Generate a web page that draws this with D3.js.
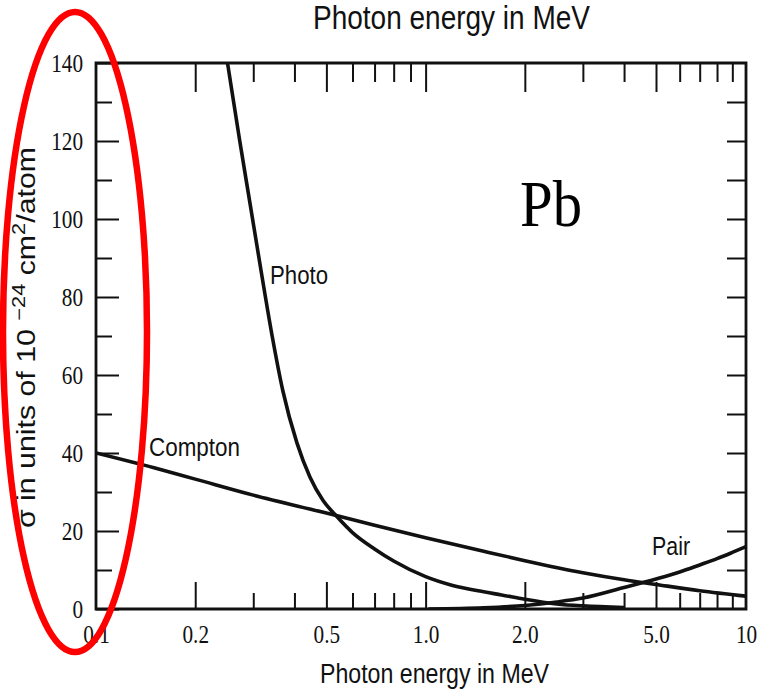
<!DOCTYPE html>
<html><head><meta charset="utf-8">
<script src="https://cdn.jsdelivr.net/npm/d3@7"></script>
<style>body{margin:0;background:#fff}svg{display:block}</style>
</head><body>
<svg id="c" width="769" height="692"></svg>
<script>
// ---- data ----
const energyLabels = [0.1, 0.2, 0.5, 1, 2, 5, 10];
const energyLabelText = ["0.1", "0.2", "0.5", "1.0", "2.0", "5.0", "10"];
const energyMajorTicks = [0.2, 0.5, 1, 2, 5];
const energyMinorTicks = [0.3, 0.4, 0.6, 0.7, 0.8, 0.9, 3, 4, 6, 7, 8, 9];
const sigmaMajorTicks = [0, 20, 40, 60, 80, 100, 120, 140];
const sigmaMinorTicks = [10, 30, 50, 70, 90, 110, 130];
const sigmaRightTicks = [10, 20, 30, 40, 50, 60, 70, 80, 90, 100, 110, 120, 130];

const comptonE     = [0.1, 0.15, 0.2, 0.3, 0.5, 0.7, 1, 1.5, 2, 3, 4, 5, 7, 10];
const comptonSigma = [40, 36.2, 33.3, 29.2, 24.6, 21.5, 18.3, 14.8, 12.4, 9.3, 7.5, 6.3, 4.7, 3.3];

const photoE     = [0.241, 0.252, 0.273, 0.293, 0.318, 0.342, 0.369, 0.407, 0.446, 0.488, 0.538, 0.6, 0.7, 0.8, 1.0, 1.2, 1.5, 1.7, 2.0, 2.5, 3.0, 4.0];
const photoSigma = [148.8, 138.7, 120, 104.2, 85.9, 70.2, 55.9, 42.6, 33.8, 27.9, 23.7, 19.6, 15.4, 12.3, 8.3, 6.1, 4.4, 3.6, 2.5, 1.3, 0.8, 0.4];

const pairE     = [1.02, 1.5, 2, 2.5, 3, 4, 5, 6, 7, 8, 9, 10];
const pairSigma = [0, 0.3, 0.9, 1.8, 2.8, 5.5, 7.7, 9.5, 11.3, 12.9, 14.5, 16];

// ---- scales ----
const svg = d3.select("#c");
const x = d3.scaleLog().domain([0.1, 5, 10]).range([96, 656, 746]);
const y = d3.scaleLinear().domain([0, 140]).range([609, 63]);
const X0 = x(0.1), X1 = x(10), Y0 = y(0), Y1 = y(140);

const serif = "'Liberation Serif','Times New Roman',serif";
const sans = "'Liberation Sans',Arial,Helvetica,sans-serif";

svg.append("clipPath").attr("id", "plot").append("rect")
  .attr("x", X0).attr("y", Y1).attr("width", X1 - X0).attr("height", Y0 - Y1);

function styleAxis(g, w) {
  g.select(".domain").remove();
  g.selectAll(".tick line").attr("stroke", "#111").attr("stroke-width", w || 2);
}

// bottom axis
svg.append("g").attr("transform", `translate(0,${Y0})`)
  .call(d3.axisBottom(x).tickValues(energyMajorTicks).tickSize(-27).tickFormat(""))
  .call(styleAxis);
svg.append("g").attr("transform", `translate(0,${Y0})`)
  .call(d3.axisBottom(x).tickValues(energyMinorTicks).tickSize(-16).tickFormat(""))
  .call(styleAxis);
const xl = svg.append("g").attr("transform", `translate(0,${Y0})`)
  .call(d3.axisBottom(x).tickValues(energyLabels).tickSize(0).tickPadding(16)
    .tickFormat((d, i) => energyLabelText[i]));
xl.select(".domain").remove();
xl.selectAll("text").attr("font-family", serif).attr("font-size", 25).attr("fill", "#111")
  .attr("transform", "scale(0.85,1)");

// top axis
svg.append("g").attr("transform", `translate(0,${Y1})`)
  .call(d3.axisTop(x).tickValues(energyMajorTicks).tickSize(-29).tickFormat(""))
  .call(styleAxis);
svg.append("g").attr("transform", `translate(0,${Y1})`)
  .call(d3.axisTop(x).tickValues(energyMinorTicks).tickSize(-19).tickFormat(""))
  .call(styleAxis);

// left axis
const yl = svg.append("g").attr("transform", `translate(${X0},0)`)
  .call(d3.axisLeft(y).tickValues(sigmaMajorTicks).tickSize(-23).tickPadding(13).tickFormat(d3.format("d")));
styleAxis(yl);
yl.selectAll("text").attr("font-family", serif).attr("font-size", 25).attr("fill", "#111")
  .attr("x", -13 / 0.85).attr("transform", "scale(0.85,1)");
svg.append("g").attr("transform", `translate(${X0},0)`)
  .call(d3.axisLeft(y).tickValues(sigmaMinorTicks).tickSize(-16).tickFormat(""))
  .call(styleAxis);

// right axis
svg.append("g").attr("transform", `translate(${X1},0)`)
  .call(d3.axisRight(y).tickValues(sigmaRightTicks).tickSize(-19).tickFormat(""))
  .call(styleAxis);

// frame
svg.append("path").attr("d", `M${X0},${Y1}H${X1}V${Y0}H${X0}Z`)
  .attr("stroke", "#111").attr("stroke-width", 2.8).attr("fill", "none");

// curves
const line = d3.line().x(d => x(d[0])).y(d => y(d[1])).curve(d3.curveMonotoneX);
const curves = svg.append("g").attr("clip-path", "url(#plot)").attr("fill", "none")
  .attr("stroke", "#111").attr("stroke-width", 3.6).attr("stroke-linejoin", "round");
curves.append("path").attr("d", line(comptonE.map((e, i) => [e, comptonSigma[i]])));
curves.append("path").attr("d", line(photoE.map((e, i) => [e, photoSigma[i]])));
curves.append("path").attr("d", line(pairE.map((e, i) => [e, pairSigma[i]])));

// curve labels
function label(txt, lx, ly, len, size) {
  svg.append("text").attr("x", lx).attr("y", ly).attr("font-family", sans)
    .attr("font-size", size).attr("fill", "#111")
    .attr("textLength", len).attr("lengthAdjust", "spacingAndGlyphs").text(txt);
}
label("Photo", 270, 284, 58, 26);
label("Compton", 149, 456, 91, 26);
label("Pair", 652, 555, 38, 26);

// titles
svg.append("text").attr("x", 313).attr("y", 29).attr("font-family", sans).attr("font-size", 33)
  .attr("fill", "#111").attr("textLength", 277).attr("lengthAdjust", "spacingAndGlyphs")
  .text("Photon energy in MeV");
svg.append("text").attr("x", 320).attr("y", 683).attr("font-family", sans).attr("font-size", 27)
  .attr("fill", "#111").attr("textLength", 229).attr("lengthAdjust", "spacingAndGlyphs")
  .text("Photon energy in MeV");

// y title
const yt = svg.append("text").attr("transform", "translate(35,528) rotate(-90)")
  .attr("font-family", sans).attr("font-size", 25).attr("fill", "#111")
  .attr("textLength", 381).attr("lengthAdjust", "spacingAndGlyphs");
yt.append("tspan").text("σ in units of 10 ");
yt.append("tspan").attr("dy", -10).attr("font-size", 18).text("−24");
yt.append("tspan").attr("dy", 10).text(" cm");
yt.append("tspan").attr("dy", -10).attr("font-size", 18).text("2");
yt.append("tspan").attr("dy", 10).text("/atom");

// Pb
svg.append("text").attr("x", 520).attr("y", 226).attr("font-family", serif).attr("font-size", 66)
  .attr("fill", "#000").attr("textLength", 62).attr("lengthAdjust", "spacingAndGlyphs").text("Pb");

// red ellipse
svg.append("ellipse").attr("cx", 75).attr("cy", 332).attr("rx", 72).attr("ry", 320)
  .attr("fill", "none").attr("stroke", "#ff0000").attr("stroke-width", 6.5);
</script>
</body></html>
